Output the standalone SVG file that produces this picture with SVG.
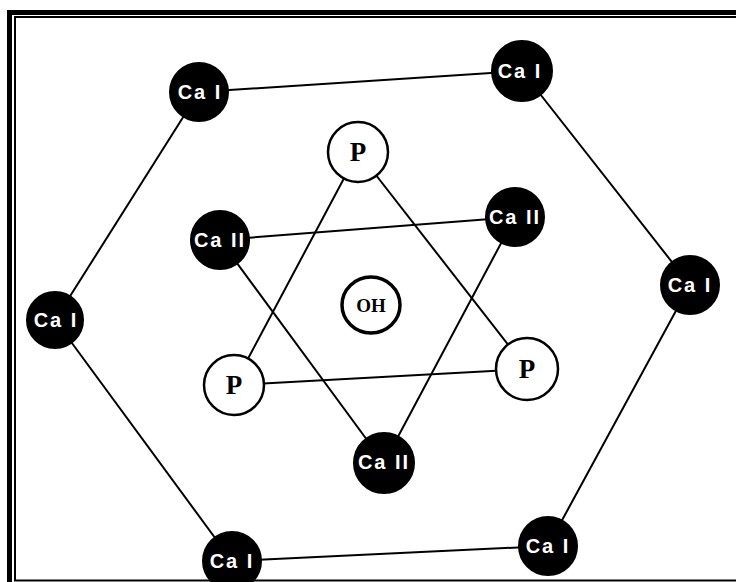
<svg xmlns="http://www.w3.org/2000/svg" width="736" height="582" viewBox="0 0 736 582">
<style>
.edge{stroke:#000;stroke-width:2;fill:none}
.ca{fill:#000;stroke:#000;stroke-width:2}
.p{fill:#fff;stroke:#000;stroke-width:2.5}
.oh{fill:#fff;stroke:#000;stroke-width:3.5}
.lc{font-family:"Liberation Sans",Arial,sans-serif;font-weight:bold;font-size:20px;fill:#fff;letter-spacing:2px;text-anchor:middle}
.lp{font-family:"Liberation Serif","Times New Roman",serif;font-weight:bold;font-size:27px;fill:#000;text-anchor:middle}
.lo{font-family:"Liberation Serif","Times New Roman",serif;font-weight:bold;font-size:19px;fill:#000;text-anchor:middle}
</style>
<rect x="0" y="0" width="736" height="582" fill="#fff"/>
<g id="frame">
<path d="M736 12.5 H9.5 V582" fill="none" stroke="#000" stroke-width="5"/>
<path d="M736 17 H15 V580.5 H736" fill="none" stroke="#000" stroke-width="2"/>
</g>
<g id="connectors">
<line class="edge" x1="199" y1="92" x2="522" y2="71"/>
<line class="edge" x1="522" y1="71" x2="690" y2="285"/>
<line class="edge" x1="690" y1="285" x2="548" y2="546"/>
<line class="edge" x1="548" y1="546" x2="232" y2="561"/>
<line class="edge" x1="232" y1="561" x2="55" y2="320"/>
<line class="edge" x1="55" y1="320" x2="199" y2="92"/>
<line class="edge" x1="220" y1="240" x2="515" y2="217"/>
<line class="edge" x1="220" y1="240" x2="384" y2="463"/>
<line class="edge" x1="515" y1="217" x2="384" y2="463"/>
<line class="edge" x1="358" y1="152" x2="234" y2="385"/>
<line class="edge" x1="358" y1="152" x2="527" y2="369"/>
<line class="edge" x1="234" y1="385" x2="527" y2="369"/>
</g>
<g id="caI-1"><circle class="ca" cx="199" cy="92" r="29"/><text class="lc" x="200" y="99">Ca I</text></g>
<g id="caI-2"><circle class="ca" cx="522" cy="71" r="30"/><text class="lc" x="520" y="78">Ca I</text></g>
<g id="caI-3"><circle class="ca" cx="690" cy="285" r="29"/><text class="lc" x="690" y="292">Ca I</text></g>
<g id="caI-4"><circle class="ca" cx="548" cy="546" r="29"/><text class="lc" x="548" y="553">Ca I</text></g>
<g id="caI-5"><circle class="ca" cx="232" cy="561" r="29"/><text class="lc" x="232" y="568">Ca I</text></g>
<g id="caI-6"><circle class="ca" cx="55" cy="320" r="28"/><text class="lc" x="56" y="327">Ca I</text></g>
<g id="caII-1"><circle class="ca" cx="220" cy="240" r="29"/><text class="lc" x="220" y="247">Ca II</text></g>
<g id="caII-2"><circle class="ca" cx="515" cy="217" r="29"/><text class="lc" x="515" y="224">Ca II</text></g>
<g id="caII-3"><circle class="ca" cx="384" cy="463" r="30"/><text class="lc" x="384" y="469">Ca II</text></g>
<g id="p-1"><circle class="p" cx="358" cy="152" r="30"/><text class="lp" x="358" y="161">P</text></g>
<g id="p-2"><circle class="p" cx="234" cy="385" r="30"/><text class="lp" x="234" y="394">P</text></g>
<g id="p-3"><circle class="p" cx="527" cy="369" r="31"/><text class="lp" x="527" y="378">P</text></g>
<g id="oh"><ellipse class="oh" cx="371" cy="305" rx="29" ry="28"/><text class="lo" x="371" y="312">OH</text></g>
</svg>
